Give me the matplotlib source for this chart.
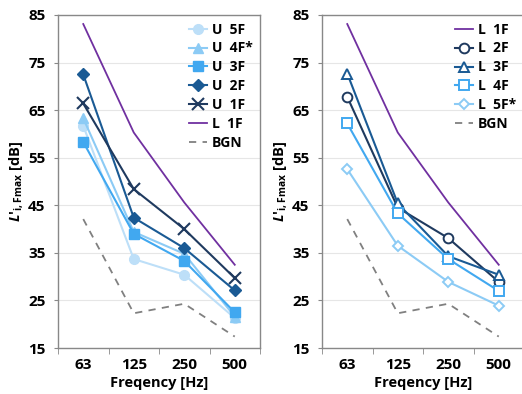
import matplotlib
matplotlib.use("Agg")
import matplotlib.pyplot as plt
import numpy as np

plt.rcParams['font.family'] = ['Open Sans', 'DejaVu Sans']
plt.rcParams['mathtext.fontset'] = 'custom'
plt.rcParams['mathtext.it'] = 'Open Sans:italic:bold'
plt.rcParams['mathtext.rm'] = 'Open Sans:bold'
plt.rcParams['mathtext.bf'] = 'Open Sans:bold'

freqs = ["63", "125", "250", "500"]
yticks = [15, 25, 35, 45, 55, 65, 75, 85]

u5f = [61.7, 33.7, 30.4, 21.3]
u4f = [63.3, 39.4, 34.8, 21.6]
u3f = [58.3, 39.0, 33.3, 22.5]
u2f = [72.5, 42.4, 36.0, 27.1]
u1f = [66.4, 48.4, 40.0, 29.7]
l1f = [83.1, 60.3, 45.6, 32.5]
bgn = [42.1, 22.3, 24.3, 17.4]

l2f = [67.8, 44.5, 38.1, 28.9]
l3f = [72.7, 45.4, 34.3, 30.4]
l4f = [62.2, 43.3, 33.7, 27.0]
l5f = [52.6, 36.5, 28.9, 23.9]

c_u5 = '#BDDFF8'
c_u4 = '#8CCBF5'
c_u3 = '#41A8F0'
c_u2 = '#1A5A94'
c_u1 = '#1F3A5F'
c_l1 = '#7030A0'
c_bg = '#808080'

fig = plt.figure(figsize=(5.22, 3.94), dpi=100)
ax1 = fig.add_axes([58/522, 46/394, 202/522, 333/394])
ax2 = fig.add_axes([322/522, 46/394, 202/522, 333/394])
x = np.arange(len(freqs))

lw = 1.5
ax1.plot(x, u5f, color=c_u5, marker='o', ms=7, lw=lw, label='U  5F')
ax1.plot(x, u4f, color=c_u4, marker='^', ms=7, lw=lw, label='U  4F*')
ax1.plot(x, u3f, color=c_u3, marker='s', ms=7, lw=lw, label='U  3F')
ax1.plot(x, u2f, color=c_u2, marker='D', ms=6, lw=lw, label='U  2F')
ax1.plot(x, u1f, color=c_u1, marker='x', ms=8, mew=1.5, lw=lw, label='U  1F')
ax1.plot(x, l1f, color=c_l1, lw=1.3, label='L  1F')
ax1.plot(x, bgn, color=c_bg, lw=1.3, ls=(0, (4, 3.5)), label='BGN')

ax2.plot(x, l1f, color=c_l1, lw=1.3, label='L  1F')
ax2.plot(x, l2f, color=c_u1, marker='o', ms=7, mfc='white', mew=1.4, lw=lw, label='L  2F')
ax2.plot(x, l3f, color=c_u2, marker='^', ms=7, mfc='white', mew=1.4, lw=lw, label='L  3F')
ax2.plot(x, l4f, color=c_u3, marker='s', ms=7, mfc='white', mew=1.4, lw=lw, label='L  4F')
ax2.plot(x, l5f, color=c_u4, marker='D', ms=5.5, mfc='white', mew=1.4, lw=lw, label='L  5F*')
ax2.plot(x, bgn, color=c_bg, lw=1.3, ls=(0, (4, 3.5)), label='BGN')

for ax in (ax1, ax2):
    ax.set_xlim(-0.5, 3.5)
    ax.set_ylim(15, 85)
    ax.set_yticks(yticks)
    ax.set_xticks(x)
    ax.set_xticklabels(freqs)
    ax.set_xticks([-0.5, 0.5, 1.5, 2.5, 3.5], minor=True)
    ax.tick_params(axis='x', which='major', length=0, pad=7, labelsize=11)
    ax.tick_params(axis='x', which='minor', length=4, color='#888888', direction='out')
    ax.tick_params(axis='y', length=3, color='#888888', labelsize=11, pad=6)
    for lab in ax.get_xticklabels() + ax.get_yticklabels():
        lab.set_fontweight('bold')
    ax.grid(axis='y', color='#E6E6E6', lw=0.8)
    ax.set_axisbelow(True)
    for s in ['left', 'bottom', 'top', 'right']:
        ax.spines[s].set_color('#888888')
        ax.spines[s].set_linewidth(1.0)
    ax.set_xlabel('Freqency [Hz]', fontsize=10.5, fontweight='bold', labelpad=3)
    ax.set_ylabel(r"$\it{L}$'$_{\rm i,Fmax}$ [dB]", fontsize=10.5, fontweight='bold', labelpad=2)
    ax.legend(loc='upper right', frameon=False, prop={'weight': 'bold', 'size': 10},
              handlelength=1.3, handletextpad=0.35, labelspacing=0.35, borderaxespad=0.15)

ax2.spines['right'].set_visible(False)

fig.savefig('out.png', dpi=100)
